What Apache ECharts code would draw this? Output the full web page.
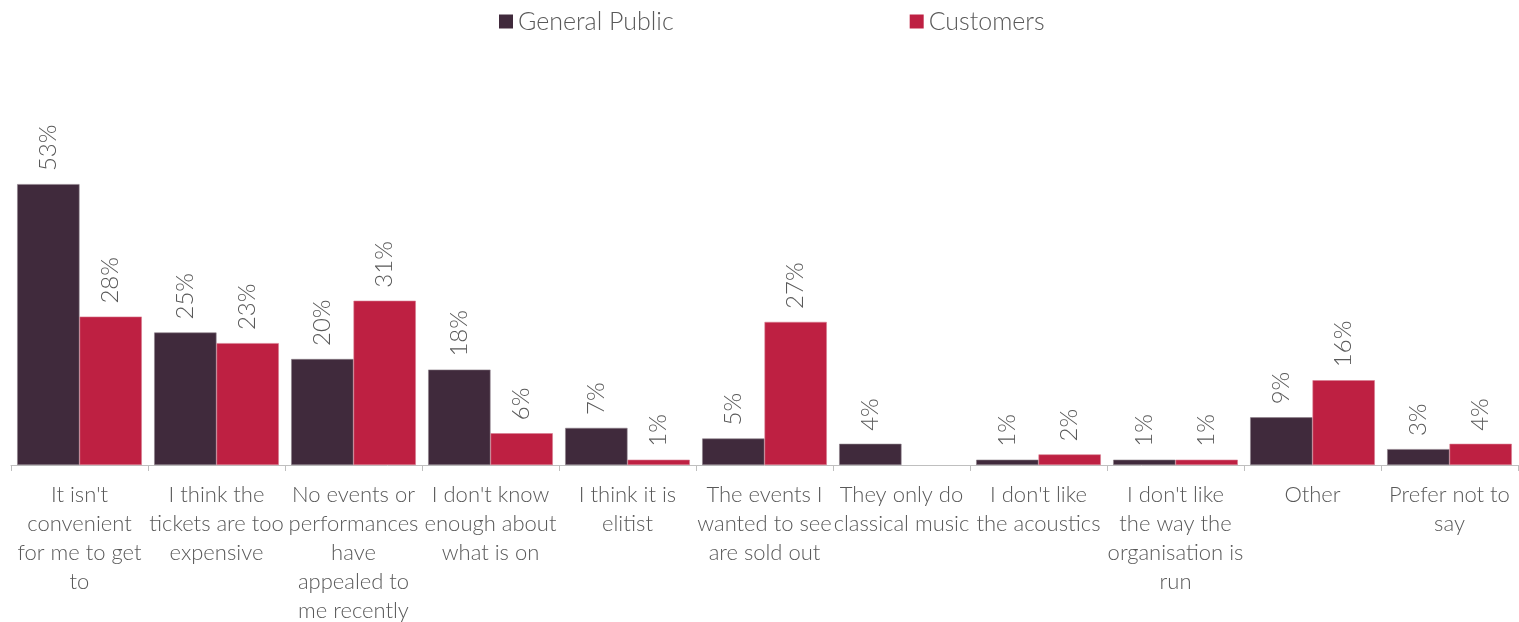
<!DOCTYPE html>
<html>
<head>
<meta charset="utf-8">
<script src="https://cdn.jsdelivr.net/npm/echarts@6/dist/echarts.min.js"></script>
<style>
  html, body { margin: 0; padding: 0; background: #fff; }
  #chart { width: 1519px; height: 622px; }
</style>
</head>
<body>
<div id="chart"></div>
<script>
// Reasons for not attending, share of respondents (%)
const categories = [
  "It isn't\nconvenient\nfor me to get\nto",
  "I think the\ntickets are too\nexpensive",
  "No events or\nperformances\nhave\nappealed to\nme recently",
  "I don't know\nenough about\nwhat is on",
  "I think it is\nelitist",
  "The events I\nwanted to see\nare sold out",
  "They only do\nclassical music",
  "I don't like\nthe acoustics",
  "I don't like\nthe way the\norganisation is\nrun",
  "Other",
  "Prefer not to\nsay"
];
const seriesNames = ["General Public", "Customers"];
const generalPublic = [53, 25, 20, 18, 7, 5, 4, 1, 1, 9, 3];
const customers = [28, 23, 31, 6, 1, 27, null, 2, 1, 16, 4];

const FONT = "Lato, 'Open Sans', sans-serif";
const TEXT = '#595959';

const labelStyle = {
  show: true,
  position: 'top',
  rotate: 90,
  align: 'left',
  verticalAlign: 'middle',
  distance: 13,
  color: TEXT,
  fontFamily: FONT,
  fontWeight: 300,
  fontSize: 24,
  formatter: p => (p.value == null ? '' : p.value + '%')
};

const chart = echarts.init(document.getElementById('chart'));
chart.setOption({
  animation: false,
  legend: {
    top: 4,
    left: 494,
    itemWidth: 14,
    itemHeight: 14,
    itemGap: 236,
    icon: 'rect',
    itemStyle: { borderWidth: 0 },
    textStyle: { color: TEXT, fontFamily: FONT, fontWeight: 300, fontSize: 25 },
    data: seriesNames
  },
  grid: { left: 11, right: 1, top: 147, bottom: 157, outerBoundsMode: 'none' },
  xAxis: {
    type: 'category',
    data: categories,
    axisLine: { lineStyle: { color: '#BFBFBF', width: 1 } },
    axisTick: { show: true, length: 6, lineStyle: { color: '#BFBFBF' } },
    axisLabel: {
      interval: 0,
      margin: 15,
      color: TEXT,
      fontFamily: FONT,
      fontWeight: 300,
      fontSize: 22,
      lineHeight: 29
    }
  },
  yAxis: {
    type: 'value',
    min: 0,
    max: 60,
    show: false,
    splitLine: { show: false }
  },
  series: [
    {
      name: seriesNames[0],
      type: 'bar',
      data: generalPublic,
      barGap: '0%',
      barCategoryGap: '9%',
      itemStyle: { color: '#402A3C', borderColor: '#8C8088', borderWidth: 0.6 },
      label: labelStyle
    },
    {
      name: seriesNames[1],
      type: 'bar',
      data: customers,
      itemStyle: { color: '#BE2042', borderColor: '#D87C90', borderWidth: 0.6 },
      label: labelStyle
    }
  ]
});
</script>
</body>
</html>
